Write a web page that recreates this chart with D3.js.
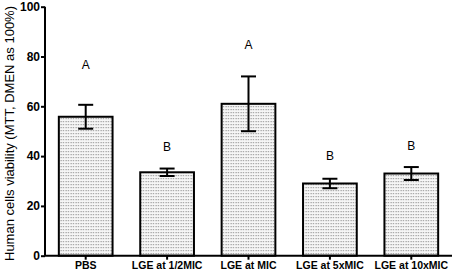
<!DOCTYPE html>
<html>
<head>
<meta charset="utf-8">
<script src="https://cdn.jsdelivr.net/npm/d3@7"></script>
<style>
  body { margin: 0; background: #fff; }
  svg { display: block; font-family: "Liberation Sans", Arial, sans-serif; }
</style>
</head>
<body>
<svg></svg>
<script>
// data
let groups = ["PBS", "LGE at 1/2MIC", "LGE at MIC", "LGE at 5xMIC", "LGE at 10xMIC"]
let means = [55.8, 33.5, 61, 29, 33]
let errors = [4.8, 1.5, 11, 1.9, 2.6]
let letters = ["A", "B", "A", "B", "B"]
let letterPos = [76.5, 43.8, 84.6, 40, 44]
let yTicks = [0, 20, 40, 60, 80, 100]

let width = 454
let height = 274
let plotLeft = 45
let plotRight = 452
let plotTop = 6.7
let plotBottom = 255.7

let svg = d3.select("svg")
    .attr("width", width)
    .attr("height", height)

// dotted fill like the original
let defs = svg.append("defs")
let pat = defs.append("pattern")
    .attr("id", "dots")
    .attr("patternUnits", "userSpaceOnUse")
    .attr("width", 2.5)
    .attr("height", 3)
pat.append("rect").attr("width", 2.5).attr("height", 3).attr("fill", "#f6f6f6")
pat.append("rect").attr("x", 0.5).attr("y", 1).attr("width", 1.2).attr("height", 1.2).attr("fill", "#9a9a9a")

let xScale = d3.scaleBand()
    .domain(groups)
    .range([plotLeft, plotRight])
    .paddingInner(0.34)
    .paddingOuter(0.17)

let yScale = d3.scaleLinear()
    .domain([0, 100])
    .range([plotBottom, plotTop])

// bars
svg.selectAll("rect.bar")
    .data(groups)
    .enter()
    .append("rect")
    .attr("class", "bar")
    .attr("x", d => xScale(d))
    .attr("y", (d, i) => yScale(means[i]))
    .attr("width", xScale.bandwidth())
    .attr("height", (d, i) => yScale(0) - yScale(means[i]))
    .attr("fill", "url(#dots)")
    .attr("stroke", "#000")
    .attr("stroke-width", 2)

// error bars
let cap = 7.5
let cx = d => xScale(d) + xScale.bandwidth() / 2
let eb = svg.selectAll("g.err")
    .data(groups)
    .enter()
    .append("g")
    .attr("class", "err")
    .attr("stroke", "#000")
    .attr("stroke-width", 2)
eb.append("line")
    .attr("x1", cx)
    .attr("x2", cx)
    .attr("y1", (d, i) => yScale(means[i] + errors[i]))
    .attr("y2", (d, i) => yScale(means[i] - errors[i]))
eb.append("line")
    .attr("x1", d => cx(d) - cap)
    .attr("x2", d => cx(d) + cap)
    .attr("y1", (d, i) => yScale(means[i] + errors[i]))
    .attr("y2", (d, i) => yScale(means[i] + errors[i]))
eb.append("line")
    .attr("x1", d => cx(d) - cap)
    .attr("x2", d => cx(d) + cap)
    .attr("y1", (d, i) => yScale(means[i] - errors[i]))
    .attr("y2", (d, i) => yScale(means[i] - errors[i]))

// significance letters
svg.selectAll("text.letter")
    .data(groups)
    .enter()
    .append("text")
    .attr("class", "letter")
    .attr("x", cx)
    .attr("y", (d, i) => yScale(letterPos[i]))
    .attr("dy", "0.35em")
    .attr("text-anchor", "middle")
    .style("font-size", "12px")
    .text((d, i) => letters[i])

// axes
let xAxis = d3.axisBottom(xScale).tickSize(4).tickPadding(2)
let gx = svg.append("g")
    .attr("transform", "translate(0," + plotBottom + ")")
    .call(xAxis)
gx.select(".domain").attr("stroke-width", 2).attr("d", "M" + plotLeft + ",0H" + plotRight)
gx.selectAll(".tick line").attr("stroke-width", 2)
gx.selectAll(".tick text")
    .style("font-size", "10.5px")
    .style("font-weight", "bold")
    .attr("font-family", null)

let yAxis = d3.axisLeft(yScale).tickValues(yTicks).tickSize(4).tickPadding(1)
let gy = svg.append("g")
    .attr("transform", "translate(" + plotLeft + ",0)")
    .call(yAxis)
gy.select(".domain").attr("stroke-width", 2).attr("d", "M0," + plotBottom + "V" + plotTop)
gy.selectAll(".tick line").attr("stroke-width", 2)
gy.selectAll(".tick text")
    .style("font-size", "12px")
    .style("font-weight", "bold")
    .attr("font-family", null)

svg.append("text")
    .attr("transform", "translate(14," + 133.5 + ") rotate(-90)")
    .attr("text-anchor", "middle")
    .style("font-size", "13px")
    .text("Human cells viability (MTT, DMEN as 100%)")
</script>
</body>
</html>
